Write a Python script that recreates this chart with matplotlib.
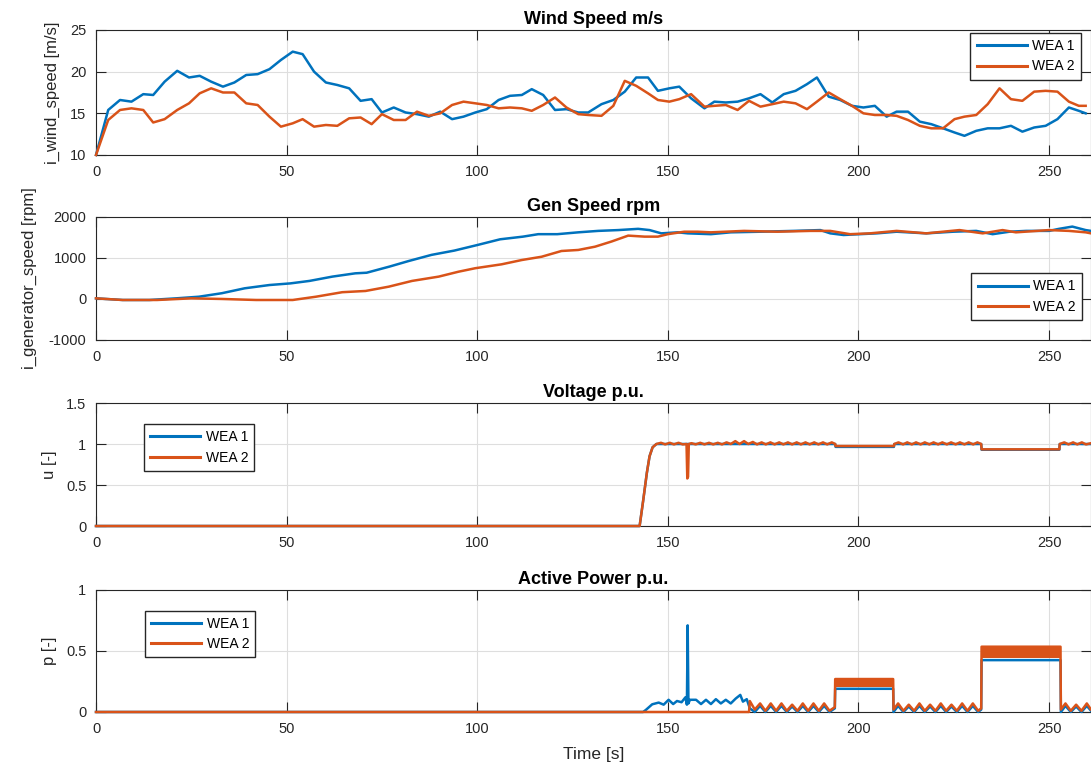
"""Two-turbine simulation overview (WEA 1 / WEA 2).

Four stacked panels against simulation time: wind speed, generator
speed, terminal voltage and active power, in MATLAB default styling.
"""

import matplotlib.pyplot as plt
from matplotlib.ticker import FuncFormatter

BLUE = "#0072BD"
ORANGE = "#D95319"
AX_GREY = "#262626"
GRID_GREY = "#dedede"
SERIES_LABELS = ["WEA 1", "WEA 2"]
X_MAX = 261

# -- wind speed, one sample roughly every 3 s ------------------------------
WIND_T = [
    0, 3.2, 6.3, 9.3, 12.4, 15.0, 18.0, 21.3, 24.4, 27.2, 30.2, 33.3, 36.3,
    39.4, 42.4, 45.5, 48.5, 51.6, 54.2, 57.2, 60.3, 63.3, 66.4, 69.4, 72.3,
    75.0, 78.1, 81.2, 84.2, 87.3, 90.3, 93.4, 96.4, 99.5, 102.5, 105.6, 108.6,
    111.7, 114.3, 117.3, 120.4, 123.4, 126.5, 129.1,
    132.6, 135.7, 138.7, 141.7, 144.8, 147.4, 150.4, 153.0, 156.1, 159.6,
    162.2, 165.2, 168.3, 171.3, 174.3, 177.4, 180.4, 183.5, 186.5, 189.1,
    192.2, 195.2, 198.3, 201.3, 204.3, 207.4, 210.0, 213.0, 216.1, 219.1,
    222.2, 225.2, 227.8, 230.9, 233.9, 237.0, 240.0, 243.0, 246.1, 249.1,
    252.2, 255.2, 257.8, 259.6,
]
WIND_1 = [
    10, 15.4, 16.6, 16.4, 17.3, 17.2, 18.8, 20.1, 19.3, 19.5, 18.8, 18.2, 18.7,
    19.6, 19.7, 20.3, 21.4, 22.4, 22.1, 20.0, 18.7, 18.4, 18.0, 16.5, 16.7,
    15.1, 15.7, 15.1, 14.9, 14.6, 15.2, 14.3, 14.6, 15.1, 15.5, 16.6, 17.1,
    17.2, 17.9, 17.2, 15.4, 15.5, 15.1, 15.1,
    16.1, 16.6, 17.6, 19.3, 19.3, 17.7, 18.0, 18.2, 16.8, 15.6,
    16.4, 16.3, 16.4, 16.8, 17.3, 16.3, 17.3, 17.7, 18.5, 19.3,
    17.0, 16.6, 15.9, 15.7, 15.9, 14.6, 15.2, 15.2, 14.0, 13.7,
    13.2, 12.7, 12.3, 12.9, 13.2, 13.2, 13.5, 12.8, 13.3, 13.5,
    14.3, 15.7, 15.3, 15.0,
]
WIND_2 = [
    10, 14.2, 15.4, 15.6, 15.4, 13.9, 14.3, 15.4, 16.2, 17.4, 18.0, 17.5, 17.5,
    16.2, 16.0, 14.6, 13.4, 13.8, 14.3, 13.4, 13.6, 13.5, 14.4, 14.5, 13.7,
    14.9, 14.2, 14.2, 15.2, 14.7, 15.0, 16.0, 16.4, 16.2, 16.0, 15.6, 15.7,
    15.6, 15.3, 16.0, 16.9, 15.7, 14.9, 14.8,
    14.7, 15.9, 18.9, 18.3, 17.4, 16.6, 16.4, 16.7, 17.3, 15.8,
    15.9, 16.0, 15.4, 16.5, 15.8, 16.1, 16.4, 16.2, 15.5, 16.4,
    17.5, 16.7, 15.9, 15.0, 14.8, 14.8, 14.7, 14.2, 13.5, 13.2,
    13.2, 14.3, 14.6, 14.8, 16.1, 18.0, 16.7, 16.5, 17.6, 17.7,
    17.6, 16.4, 15.9, 15.9,
]

# -- generator speed (rpm) -------------------------------------------------
GEN1_T = [
    0, 7, 14, 21, 27, 33, 39, 45.5, 51, 56, 62, 68, 71, 77, 82, 88, 94, 100,
    106, 112, 116, 121, 126.5, 131.7, 137, 142.2, 145.2, 148.3, 152.6, 155.2,
    161.3, 166.5, 174.3, 183, 190, 192.6, 196.1, 200.4, 204.8, 210, 217.8,
    224.8, 230.9, 235.2, 239.6, 244, 250, 252.6, 256.1, 259.6, 261,
]
GEN1_V = [
    15, -25, -25, 15, 55, 140, 260, 340, 380, 440, 545, 625, 640, 790, 925,
    1075, 1180, 1315, 1455, 1520, 1580, 1580, 1625, 1660, 1680, 1710, 1680,
    1600, 1625, 1600, 1580, 1625, 1640, 1660, 1680, 1600, 1560, 1580, 1600,
    1640, 1600, 1640, 1660, 1580, 1640, 1660, 1660, 1710, 1765, 1680, 1660,
]
GEN2_T = [
    0, 7, 16, 25, 33, 42, 51.6, 57.7, 64.6, 70.7, 76.8, 82.9, 89.9, 95.1,
    99.5, 106.4, 111.7, 116.9, 122.1, 126.5, 130.9, 135.2, 139.6, 143.9,
    147.4, 150, 154.3, 157.8, 161.3, 170, 178.7, 187.4, 192.6, 197.8, 203,
    210, 217.8, 226.5, 232.6, 237.8, 241.3, 250, 255.2, 259.6, 261,
]
GEN2_V = [
    15, -25, -25, 15, 0, -25, -25, 55, 165, 195, 300, 440, 545, 665, 750, 845,
    950, 1030, 1170, 1195, 1275, 1400, 1545, 1520, 1520, 1580, 1640, 1640,
    1625, 1660, 1640, 1660, 1660, 1580, 1600, 1660, 1600, 1680, 1600, 1680,
    1625, 1680, 1660, 1625, 1600,
]

# -- voltage (p.u.) --------------------------------------------------------
VOLT1_T = [0, 142.6, 143.5, 144.5, 145.2, 146.0, 147.0, 193.9, 194.0, 209.3,
           209.4, 232.2, 232.3, 252.7, 252.8, 261]
VOLT1_V = [0, 0, 0.3, 0.65, 0.85, 0.96, 1.0, 1.0, 0.965, 0.965,
           1.0, 1.0, 0.93, 0.93, 1.0, 1.0]
VOLT2_T = [
    0, 142.6, 143.5, 144.5, 145.2, 146.0, 147.0, 148.2, 149.3, 150.5, 151.6,
    152.8, 153.9, 154.9, 155.1, 155.3, 155.5, 156.2, 157.3, 158.5, 159.6,
    160.8, 161.9, 163.1, 164.2, 165.4, 166.5, 167.7, 168.8, 170.0, 171.1,
    172.3, 173.4, 174.6, 175.7, 176.9, 178.0, 179.2, 180.3, 181.5, 182.6,
    183.8, 184.9, 186.1, 187.2, 188.4, 189.5, 190.7, 191.8, 193.0, 193.9,
    194.0, 209.3,
    209.4, 210.5, 211.7, 212.8, 214.0, 215.1, 216.3, 217.4, 218.6, 219.7,
    220.9, 222.0, 223.2, 224.3, 225.5, 226.6, 227.8, 228.9, 230.1, 231.2, 232.2,
    232.3, 252.7,
    252.8, 254.0, 255.1, 256.3, 257.4, 258.6, 259.7, 261,
]
VOLT2_V = [
    0, 0, 0.3, 0.65, 0.85, 0.96, 1.0, 1.015, 0.995, 1.015, 0.995,
    1.015, 0.995, 1.0, 0.58, 0.6, 1.0, 1.01, 0.995, 1.015, 0.995,
    1.015, 0.995, 1.015, 0.995, 1.02, 1.0, 1.035, 1.0, 1.035, 1.0,
    1.025, 0.995, 1.02, 0.995, 1.02, 0.995, 1.02, 0.995, 1.02, 0.995,
    1.02, 0.995, 1.02, 0.995, 1.02, 0.995, 1.02, 0.995, 1.02, 1.0,
    0.975, 0.975,
    1.0, 1.02, 0.995, 1.02, 0.995, 1.02, 0.995, 1.02, 0.995, 1.02,
    0.995, 1.02, 0.995, 1.02, 0.995, 1.02, 0.995, 1.02, 0.995, 1.02, 1.0,
    0.935, 0.935,
    1.0, 1.02, 0.995, 1.02, 0.995, 1.02, 0.995, 1.01,
]

# -- active power (p.u.) ---------------------------------------------------
POW1_T = [
    0, 143.5, 144.2, 145.9, 147.6, 148.9, 150.2, 151.4, 152.4, 153.6, 154.6,
    155.0, 155.2, 155.4, 155.8, 157.4, 158.7, 160.0, 161.3, 162.6, 163.9,
    165.2, 166.5, 167.8, 169.0, 169.7, 170.7, 171.5,
    172.8, 174.2, 175.6, 177.0, 178.4, 179.8, 181.2, 182.6, 184.0, 185.4,
    186.8, 188.2, 189.6, 191.0, 192.4, 193.8,
    193.9, 209.1,
    209.2, 210.4, 211.8, 213.2, 214.6, 216.0, 217.4, 218.8, 220.2, 221.6,
    223.0, 224.4, 225.8, 227.2, 228.6, 230.0, 231.4, 232.2,
    232.3, 253.0,
    253.1, 254.3, 255.7, 257.1, 258.5, 259.9, 261,
]
POW1_V = [
    0, 0, 0.016, 0.063, 0.077, 0.06, 0.10, 0.065, 0.09, 0.08, 0.12,
    0.06, 0.71, 0.07, 0.10, 0.10, 0.065, 0.10, 0.065, 0.105, 0.07,
    0.10, 0.07, 0.11, 0.14, 0.085, 0.105, 0.03,
    0.0, 0.05, 0.0, 0.05, 0.0, 0.05, 0.0, 0.045, 0.0, 0.05,
    0.0, 0.05, 0.0, 0.05, 0.0, 0.03,
    0.19, 0.19,
    0.0, 0.05, 0.0, 0.045, 0.0, 0.05, 0.0, 0.045, 0.0, 0.05,
    0.0, 0.045, 0.0, 0.05, 0.0, 0.05, 0.0, 0.02,
    0.425, 0.425,
    0.0, 0.05, 0.0, 0.045, 0.0, 0.05, 0.01,
]
POW2_T = [
    0, 171.3, 171.5, 172.8, 174.2, 175.6, 177.0, 178.4, 179.8, 181.2, 182.6,
    184.0, 185.4, 186.8, 188.2, 189.6, 191.0, 192.4, 193.8,
    193.9, 209.1,
    209.2, 210.4, 211.8, 213.2, 214.6, 216.0, 217.4, 218.8, 220.2, 221.6,
    223.0, 224.4, 225.8, 227.2, 228.6, 230.0, 231.4, 232.2,
    232.3, 253.0,
    253.1, 254.3, 255.7, 257.1, 258.5, 259.9, 261,
]
POW2_V = [
    0, 0, 0.09, 0.02, 0.07, 0.01, 0.07, 0.01, 0.07, 0.01, 0.06,
    0.01, 0.07, 0.01, 0.07, 0.01, 0.07, 0.01, 0.04,
    0.27, 0.27,
    0.02, 0.07, 0.01, 0.06, 0.01, 0.07, 0.01, 0.06, 0.01, 0.07,
    0.01, 0.06, 0.01, 0.07, 0.01, 0.07, 0.01, 0.03,
    0.535, 0.535,
    0.02, 0.07, 0.01, 0.06, 0.01, 0.07, 0.02,
]
# fast ripple of WEA 2 while it feeds in: drawn as a solid band
POW2_BAND_T = [[193.9, 209.1], [232.3, 253.0]]
POW2_BAND_LO = [[0.205, 0.205], [0.44, 0.44]]
POW2_BAND_HI = [[0.27, 0.27], [0.535, 0.535]]

# axes rectangles in figure fractions (left, bottom, width, height)
PANEL_RECTS = [
    (0.088, 0.7974, 0.912, 0.1634),
    (0.088, 0.5556, 0.912, 0.1608),
    (0.088, 0.3124, 0.912, 0.1608),
    (0.088, 0.0693, 0.912, 0.1595),
]


def _style_axes(ax, title, ylabel, ylim, yticks, ylabel_x):
    ax.set_xlim(0, X_MAX)
    ax.set_ylim(*ylim)
    ax.set_yticks(yticks)
    ax.set_xticks(range(0, 251, 50))
    ax.yaxis.set_major_formatter(FuncFormatter(lambda v, _: f"{v:g}"))
    ax.grid(True, color=GRID_GREY, linewidth=0.8)
    ax.set_axisbelow(True)
    ax.tick_params(direction="in", top=True, right=True, length=7,
                   width=0.8, colors=AX_GREY, labelsize=10.5, pad=7)
    for spine in ax.spines.values():
        spine.set_color(AX_GREY)
        spine.set_linewidth(0.8)
    ax.set_title(title, fontsize=13, fontweight="bold", color="black", pad=4)
    ax.set_ylabel(ylabel, fontsize=12, color=AX_GREY)
    ax.yaxis.set_label_coords(ylabel_x, 0.5)


def _legend(ax, loc, anchor):
    leg = ax.legend(SERIES_LABELS, loc=loc, bbox_to_anchor=anchor,
                    borderaxespad=0, fontsize=10, handlelength=3.6,
                    handletextpad=0.4, labelspacing=0.45, borderpad=0.45,
                    fancybox=False, framealpha=1)
    leg.get_frame().set_edgecolor(AX_GREY)
    leg.get_frame().set_linewidth(1.0)
    for line in leg.get_lines():
        line.set_linewidth(2.2)


def main():
    plt.rcParams["font.family"] = ["Liberation Sans", "DejaVu Sans"]
    fig = plt.figure(figsize=(10.91, 7.65), dpi=100)
    axes = [fig.add_axes(rect) for rect in PANEL_RECTS]
    kw = dict(linewidth=1.8, zorder=3, clip_on=False)

    ax = axes[0]
    ax.plot(WIND_T, WIND_1, color=BLUE, **kw)
    ax.plot(WIND_T, WIND_2, color=ORANGE, **kw)
    _style_axes(ax, "Wind Speed m/s", "i_wind_speed [m/s]", (10, 25),
                [10, 15, 20, 25], -0.036)
    _legend(ax, "upper right", (0.99, 0.976))

    ax = axes[1]
    ax.plot(GEN1_T, GEN1_V, color=BLUE, **kw)
    ax.plot(GEN2_T, GEN2_V, color=ORANGE, **kw)
    _style_axes(ax, "Gen Speed rpm", "i_generator_speed [rpm]", (-1000, 2000),
                [-1000, 0, 1000, 2000], -0.059)
    _legend(ax, "lower right", (0.991, 0.163))

    ax = axes[2]
    ax.plot(VOLT1_T, VOLT1_V, color=BLUE, **kw)
    ax.plot(VOLT2_T, VOLT2_V, color=ORANGE, **kw)
    _style_axes(ax, "Voltage p.u.", "u [-]", (0, 1.5), [0, 0.5, 1, 1.5], -0.039)
    _legend(ax, "upper left", (0.048, 0.829))

    ax = axes[3]
    ax.plot(POW1_T, POW1_V, color=BLUE, **kw)
    ax.plot(POW2_T, POW2_V, color=ORANGE, **kw)
    for t, lo, hi in zip(POW2_BAND_T, POW2_BAND_LO, POW2_BAND_HI):
        ax.fill_between(t, lo, hi, color=ORANGE, linewidth=0, zorder=3)
    _style_axes(ax, "Active Power p.u.", "p [-]", (0, 1), [0, 0.5, 1], -0.039)
    _legend(ax, "upper left", (0.049, 0.83))
    ax.set_xlabel("Time [s]", fontsize=12.5, color=AX_GREY, labelpad=8)

    fig.savefig("out.png", dpi=100, facecolor="white")
    plt.close(fig)


if __name__ == "__main__":
    main()
